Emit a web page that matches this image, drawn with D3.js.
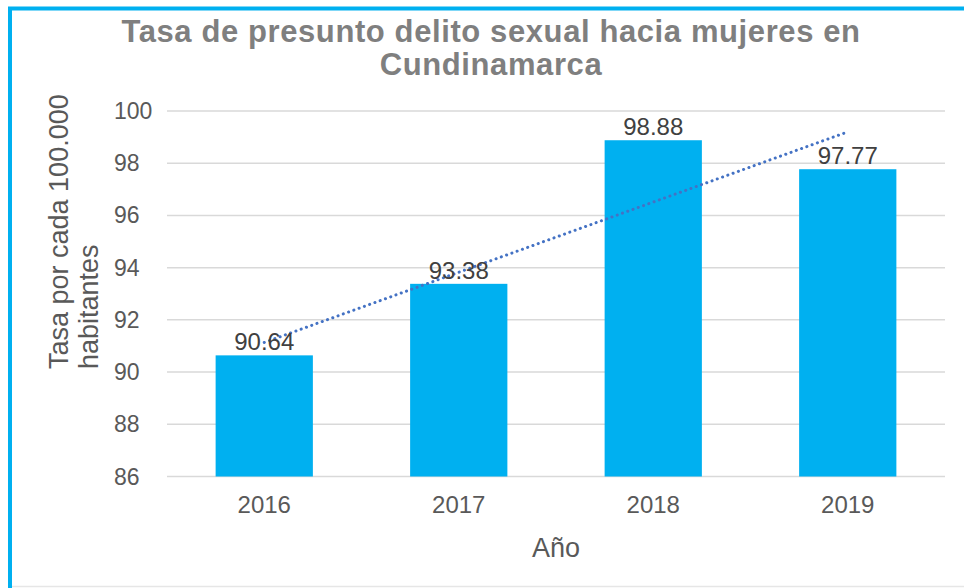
<!DOCTYPE html>
<html><head><meta charset="utf-8">
<script src="https://cdn.jsdelivr.net/npm/d3@7"></script>
<style>body{margin:0;background:#fff}svg{display:block}</style>
</head><body>
<svg id="c" width="964" height="588"></svg>
<script>
(function(){
const categories = ["2016","2017","2018","2019"];
const values = [90.64, 93.38, 98.88, 97.77];
const yTicks = [86,88,90,92,94,96,98,100];
const titleLines = ["Tasa de presunto delito sexual hacia mujeres en","Cundinamarca"];
const yTitleLines = ["Tasa por cada 100.000","habitantes"];
const xTitle = "Año";

const svg = d3.select("#c");
const font = "'Liberation Sans', Arial, sans-serif";
// frame
svg.append("rect").attr("x",0).attr("y",0).attr("width",964).attr("height",588).attr("fill","#fff");
svg.append("line").attr("x1",10).attr("x2",10).attr("y1",7).attr("y2",588).attr("stroke","#00B0F0").attr("stroke-width",4);
svg.append("line").attr("x1",8).attr("x2",964).attr("y1",8.5).attr("y2",8.5).attr("stroke","#00B0F0").attr("stroke-width",4);
svg.append("line").attr("x1",12).attr("x2",964).attr("y1",586.5).attr("y2",586.5).attr("stroke","#e6e6e6").attr("stroke-width",1.5);

const pLeft = 167, pRight = 945, pTop = 111, pBottom = 476.5;
const x = d3.scaleBand().domain(categories).range([pLeft,pRight]).paddingInner(0.5).paddingOuter(0.25);
const y = d3.scaleLinear().domain([86,100]).range([pBottom,pTop]);

// grid
svg.append("g").selectAll("line").data(yTicks).join("line")
  .attr("x1",pLeft).attr("x2",pRight).attr("y1",d=>y(d)).attr("y2",d=>y(d))
  .attr("stroke","#d9d9d9").attr("stroke-width",1.5);
svg.append("g").selectAll("text").data(yTicks).join("text")
  .attr("x",114).attr("y",d=>y(d)+8).attr("text-anchor","start")
  .attr("font-family",font).attr("font-size",23).attr("fill","#595959").text(d=>d);

// bars
svg.append("g").selectAll("rect").data(values).join("rect")
  .attr("x",(d,i)=>x(categories[i])).attr("width",x.bandwidth())
  .attr("y",d=>y(d)).attr("height",d=>pBottom-y(d)).attr("fill","#00B0F0");

// x labels
svg.append("g").selectAll("text").data(categories).join("text")
  .attr("x",d=>x(d)+x.bandwidth()/2).attr("y",513).attr("text-anchor","middle")
  .attr("font-family",font).attr("font-size",24).attr("fill","#595959").text(d=>d);

// trendline (linear regression of the series)
const n = values.length, xs = values.map((d,i)=>i+1);
const mx = d3.mean(xs), my = d3.mean(values);
const slope = d3.sum(xs.map((xi,i)=>(xi-mx)*(values[i]-my)))/d3.sum(xs.map(xi=>(xi-mx)**2));
const icpt = my - slope*mx;
const trend = [categories[0], categories[n-1]].map((c,k)=>{const xi = k===0?1:n; return [x(c)+x.bandwidth()/2, y(icpt+slope*xi)];});
svg.append("path").attr("d",d3.line()(trend)).attr("stroke","#4472C4").attr("stroke-width",3)
  .attr("stroke-dasharray","0.1 5.5").attr("stroke-linecap","round").attr("fill","none");

// data labels
svg.append("g").selectAll("text").data(values).join("text")
  .attr("x",(d,i)=>x(categories[i])+x.bandwidth()/2).attr("y",d=>y(d)-5).attr("text-anchor","middle")
  .attr("font-family",font).attr("font-size",24).attr("fill","#404040").text(d=>d.toFixed(2));

// title
svg.append("g").selectAll("text").data(titleLines).join("text")
  .attr("x",491).attr("y",(d,i)=>42+i*33).attr("text-anchor","middle")
  .attr("font-family",font).attr("font-size",31).attr("letter-spacing",0.6).attr("font-weight","bold").attr("fill","#7f7f7f").text(d=>d);

// y title
const yTitleBase = [68,98];
svg.append("g").selectAll("text").data(yTitleLines).join("text")
  .attr("transform",(d,i)=>`translate(${yTitleBase[i]},369) rotate(-90)`)
  .attr("text-anchor","start")
  .attr("font-family",font).attr("font-size",27).attr("fill","#595959").text(d=>d);

// x title
svg.append("text").attr("x",556).attr("y",557).attr("text-anchor","middle")
  .attr("font-family",font).attr("font-size",27).attr("fill","#595959").text(xTitle);
})();
</script>
</body></html>
